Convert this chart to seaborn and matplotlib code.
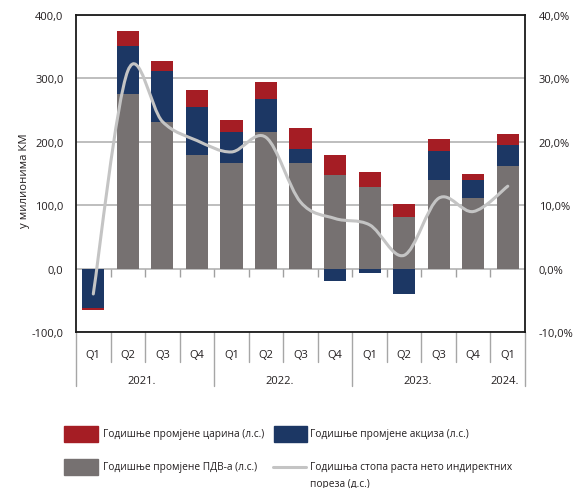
import numpy as np
import pandas as pd
import seaborn as sns
import matplotlib.pyplot as plt
from matplotlib.path import Path
from matplotlib.patches import PathPatch, Rectangle
from matplotlib.lines import Line2D
from matplotlib.ticker import FuncFormatter

# podaci (procjena sa grafika)
periodi = ["Q1 2021", "Q2 2021", "Q3 2021", "Q4 2021", "Q1 2022", "Q2 2022", "Q3 2022",
           "Q4 2022", "Q1 2023", "Q2 2023", "Q3 2023", "Q4 2023", "Q1 2024"]
kvartali = ["Q1", "Q2", "Q3", "Q4", "Q1", "Q2", "Q3", "Q4", "Q1", "Q2", "Q3", "Q4", "Q1"]
godine = ["2021.", "2022.", "2023.", "2024."]
godine_pocetak = [0, 4, 8, 12]

pdv = [0, 275, 232, 179, 166, 216, 166, 148, 129, 82, 139, 112, 162]
akcize = [-62, 76, 80, 76, 49, 52, 22, -20, -7, -40, 46, 27, 33]
carine = [-3, 23, 16, 26, 20, 27, 34, 31, 23, 20, 20, 10, 17]
stopa = [-4.0, 31.2, 23.2, 20.2, 18.4, 20.7, 10.5, 7.9, 6.9, 2.1, 11.1, 9.0, 13.0]

lab_carine = "Годишње промјене царина (л.с.)"
lab_akcize = "Годишње промјене акциза (л.с.)"
lab_pdv = "Годишње промјене ПДВ-а (л.с.)"
lab_stopa = "Годишња стопа раста нето индиректних\nпореза (д.с.)"

c_red = "#a51d24"
c_blue = "#1c3764"
c_gray = "#767171"
c_line = "#c4c4c4"
c_text = "#231f20"

sns.set_style("white")
plt.rcParams["font.family"] = ["Open Sans", "DejaVu Sans"]
plt.rcParams["font.size"] = 8

fig = plt.figure(figsize=(5.79, 4.89), dpi=100)
ax = fig.add_axes([0.1313, 0.319, 0.7755, 0.6483])

df = pd.DataFrame({"period": periodi, "pdv": pdv, "akcize": akcize, "carine": carine})

# slaganje: pozitivne vrijednosti gore, negativne dolje
pos = np.zeros(len(df))
neg = np.zeros(len(df))
for col, boja in [("pdv", c_gray), ("akcize", c_blue), ("carine", c_red)]:
    v = df[col].to_numpy(dtype=float)
    dno = np.where(v >= 0, pos, neg)
    sns.barplot(data=df, x="period", y=col, order=periodi, color=boja, width=0.64,
                bottom=dno, saturation=1, edgecolor="none", ax=ax, zorder=3)
    pos = pos + np.where(v > 0, v, 0)
    neg = neg + np.where(v < 0, v, 0)

ax.set_xlim(-0.5, len(periodi) - 0.5)
ax.set_ylim(-100, 400)
ax.set_yticks([-100, 0, 100, 200, 300, 400])
ax.yaxis.set_major_formatter(FuncFormatter(lambda v, p: f"{v:.1f}".replace(".", ",")))
ax.grid(axis="y", color="#b3b3b3", lw=1.2, zorder=0)
ax.set_axisbelow(True)
ax.set_xticks([])
ax.set_xlabel("")
ax.set_ylabel("у милионима КМ", color=c_text, fontsize=8.2)
ax.yaxis.set_label_coords(-0.103, 0.479)
ax.tick_params(axis="y", length=0, pad=9, colors=c_text, labelsize=8)
for s in ax.spines.values():
    s.set_color("#1a1a1a")
    s.set_linewidth(1.3)

# kratke crtice na nultoj liniji
ax.vlines(np.arange(0.5, len(periodi) - 0.5), -14, 0, color="#a0a0a0", lw=1, zorder=2)

# oznake kategorija ispod ose
tr = ax.get_xaxis_transform()
for i, q in enumerate(kvartali):
    ax.text(i, -0.07, q, transform=tr, ha="center", va="center", color=c_text, fontsize=8)
granice = np.arange(-0.5, len(periodi))
duge = [godine_pocetak[0] - 0.5, godine_pocetak[1] - 0.5, godine_pocetak[2] - 0.5, len(periodi) - 0.5]
for g in granice:
    dno_linije = -0.170 if g in duge else -0.095
    ax.add_line(Line2D([g, g], [0, dno_linije], transform=tr, color="#a6a6a6", lw=1, clip_on=False))
kraj = godine_pocetak[1:] + [len(periodi)]
for god, a, b in zip(godine, godine_pocetak, kraj):
    ax.text((a + b - 1) / 2 - 0.1, -0.153, god, transform=tr, ha="center", va="center",
            color=c_text, fontsize=8)

# desna osa: zaglađena linija
ax2 = ax.twinx()
ax2.set_ylim(-10, 40)
ax2.set_yticks([-10, 0, 10, 20, 30, 40])
ax2.yaxis.set_major_formatter(FuncFormatter(lambda v, p: f"{v:.1f}%".replace(".", ",")))
ax2.tick_params(axis="y", length=0, pad=10, colors=c_text, labelsize=8)
for s in ax2.spines.values():
    s.set_visible(False)

tacke = np.column_stack([np.arange(len(stopa)), stopa])
verts = [tacke[0]]
codes = [Path.MOVETO]
for i in range(len(tacke) - 1):
    p0 = tacke[i - 1] if i > 0 else tacke[i]
    p3 = tacke[i + 2] if i + 2 < len(tacke) else tacke[i + 1]
    verts += [tacke[i] + (tacke[i + 1] - p0) / 6, tacke[i + 1] - (p3 - tacke[i]) / 6, tacke[i + 1]]
    codes += [Path.CURVE4] * 3
ax2.add_patch(PathPatch(Path(verts, codes), fill=False, edgecolor=c_line, lw=2.2,
                        capstyle="round", zorder=4))

# legenda
W, H = 579, 489
def fx(px):
    return px / W
def fy(py):
    return 1 - py / H

fs_leg = 7.3
fig.add_artist(Rectangle((fx(64), fy(443)), fx(34), 16 / H, color=c_red, transform=fig.transFigure))
fig.text(fx(103), fy(435), lab_carine, va="center", ha="left", color=c_text, fontsize=fs_leg)
fig.add_artist(Rectangle((fx(274), fy(443)), fx(33), 16 / H, color=c_blue, transform=fig.transFigure))
fig.text(fx(310), fy(435), lab_akcize, va="center", ha="left", color=c_text, fontsize=fs_leg)
fig.add_artist(Rectangle((fx(64), fy(476)), fx(34), 16 / H, color=c_gray, transform=fig.transFigure))
fig.text(fx(103), fy(468), lab_pdv, va="center", ha="left", color=c_text, fontsize=fs_leg)
fig.add_artist(Line2D([fx(273), fx(306)], [fy(468), fy(468)], color=c_line, lw=2.2,
                      transform=fig.transFigure))
fig.text(fx(310), fy(462), lab_stopa, va="top", ha="left", color=c_text, fontsize=fs_leg,
         linespacing=1.75)

fig.savefig("out.png", dpi=100)
